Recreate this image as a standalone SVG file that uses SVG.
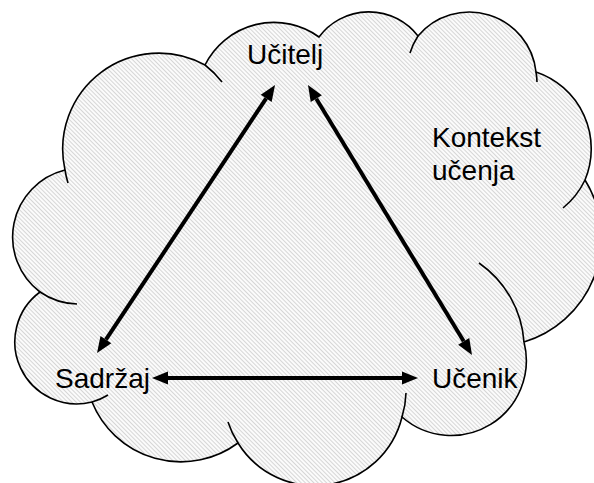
<svg xmlns="http://www.w3.org/2000/svg" width="594" height="483" viewBox="0 0 594 483">
  <style>
    .lbl { font-family: "Liberation Sans", Arial, sans-serif; font-size: 28px; fill: #000; }
    .cloud { fill: url(#hatch); stroke: #000; stroke-width: 1.6; }
    .tail { fill: none; stroke: #000; stroke-width: 1.6; }
    .conn { stroke: #000; stroke-width: 4; fill: none; }
  </style>
  <defs>
    <pattern id="hatch" patternUnits="userSpaceOnUse" width="3" height="3" patternTransform="rotate(-45)">
      <rect width="3" height="3" fill="#fbfbfb"/>
      <line x1="0.5" y1="0" x2="0.5" y2="3" stroke="#c6c6c6" stroke-width="0.7"/>
    </pattern>
    <marker id="arrow" markerUnits="userSpaceOnUse" markerWidth="20" markerHeight="16" viewBox="-1 -8 20 16" refX="0" refY="0" orient="auto-start-reverse" overflow="visible">
      <path d="M0,-6.5 L16,0 L0,6.5 z" fill="#000"/>
    </marker>
  </defs>
  <rect width="594" height="483" fill="#fff"/>

  <g id="kontekst">
    <path class="cloud" d="M 65,170 A 96 96 0 0 1 205,65 A 77 77 0 0 1 319,37 A 62 62 0 0 1 418,36 A 67 67 0 0 1 536,72 A 81 81 0 0 1 585,180 A 109 109 0 0 1 524,342 A 75 75 0 0 1 402,417 A 90 90 0 0 1 238,443 A 96 96 0 0 1 92,402 A 62 62 0 0 1 40,292 A 69 69 0 0 1 65,170 Z"/>
    <path class="tail" d="M 68,183 A 96 96 0 0 1 65,170"/>
    <path class="tail" d="M 205,65 A 96 96 0 0 1 222,82"/>
    <path class="tail" d="M 410,53 A 67 67 0 0 1 418,36"/>
    <path class="tail" d="M 536,72 A 67 67 0 0 1 537,82"/>
    <path class="tail" d="M 585,180 A 81 81 0 0 1 563,208"/>
    <path class="tail" d="M 479,263 A 105 105 0 0 1 524,342"/>
    <path class="tail" d="M 406,393 A 90 90 0 0 1 402,417"/>
    <path class="tail" d="M 238,443 A 90 90 0 0 1 228,422"/>
    <path class="tail" d="M 108,395 A 62 62 0 0 1 92,402"/>
    <path class="tail" d="M 77,304 A 69 69 0 0 1 40,292"/>
    <text class="lbl" x="432" y="147">Kontekst</text>
    <text class="lbl" x="432" y="180">učenja</text>
  </g>

  <g id="connectors">
    <line class="conn" x1="266.2" y1="98.3" x2="105.9" y2="339.7" marker-start="url(#arrow)" marker-end="url(#arrow)"/>
    <line class="conn" x1="316.3" y1="98.7" x2="463.7" y2="341.3" marker-start="url(#arrow)" marker-end="url(#arrow)"/>
    <line class="conn" x1="168" y1="378" x2="402" y2="378" marker-start="url(#arrow)" marker-end="url(#arrow)"/>
  </g>

  <g id="ucitelj">
    <text class="lbl" x="247" y="64">Učitelj</text>
  </g>
  <g id="sadrzaj">
    <text class="lbl" x="55" y="388">Sadržaj</text>
  </g>
  <g id="ucenik">
    <text class="lbl" x="432" y="388">Učenik</text>
  </g>
</svg>
